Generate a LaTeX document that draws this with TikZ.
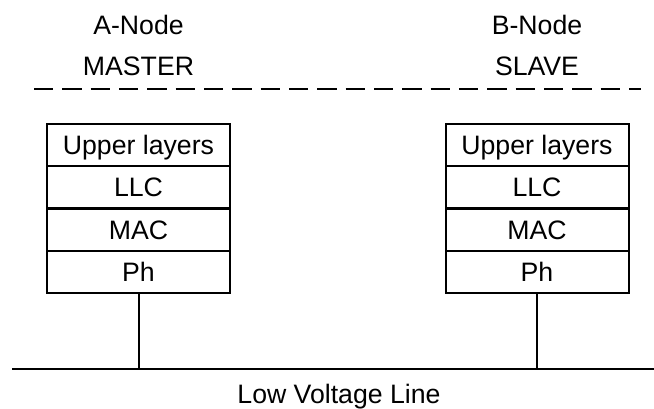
\documentclass[tikz,border=0pt]{standalone}
\usepackage{fontspec}
\setmainfont{Liberation Sans}
\begin{document}
\begin{tikzpicture}[x=0.75pt,y=-0.75pt,
  layer/.style={draw,line width=1.5pt,minimum width=137.25pt,minimum height=31.7pt,inner sep=0pt,
    font=\fontsize{20}{24}\selectfont,text height=14.3pt,text depth=0pt},
  title/.style={anchor=base,inner sep=0pt,font=\fontsize{20}{24}\selectfont},
  wire/.style={line width=1.5pt},
  sep/.style={line width=1.5pt,dash pattern=on 14.5pt off 6.75pt}]
\useasboundingbox (0,0) rectangle (654,408);
% titles
\node[title] (an) at (138.5,34) {A-Node};
\node[title] (am) at (138.5,75) {MASTER};
\node[title] (bn) at (537,34) {B-Node};
\node[title] (bm) at (537,75) {SLAVE};
% dashed separator
\coordinate (dl) at (34,89);
\coordinate (dr) at (641,89);
\draw[sep] (dl) -- (dr);
% A stack
\node[layer] (au) at (138.5,145.1) {Upper layers};
\node[layer] (al) at (138.5,187.4) {LLC};
\node[layer] (aa) at (138.5,229.6) {MAC};
\node[layer] (ap) at (138.5,271.9) {Ph};
% B stack
\node[layer] (bu) at (537,145.1) {Upper layers};
\node[layer] (bl) at (537,187.4) {LLC};
\node[layer] (ba) at (537,229.6) {MAC};
\node[layer] (bp) at (537,271.9) {Ph};
% bus
\coordinate (busl) at (12,369);
\coordinate (busr) at (654,369);
\draw[wire] (busl) -- (busr);
\draw[wire] (ap.south) -- (ap.south |- busl);
\draw[wire] (bp.south) -- (bp.south |- busl);
\node[title] (lv) at (339,403) {Low Voltage Line};
\end{tikzpicture}
\end{document}
